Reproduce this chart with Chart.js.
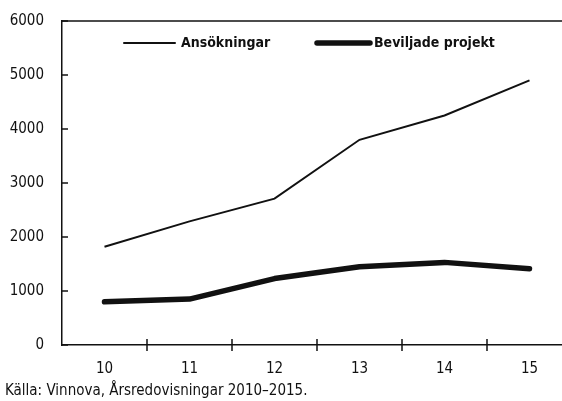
<!DOCTYPE html>
<html>
<head>
<meta charset="utf-8">
<script src="https://cdn.jsdelivr.net/npm/chart.js@4/dist/chart.umd.min.js"></script>
<style>
  html, body { margin: 0; padding: 0; background: #fff; overflow: hidden; }
  #wrap { position: relative; width: 572px; height: 401px; }
  #source { position: absolute; left: 5px; top: 381px; font: 15px 'Liberation Sans Narrow', 'DejaVu Sans Condensed', sans-serif; color: #111; white-space: nowrap; }
</style>
</head>
<body>
<div id="wrap">
  <canvas id="chart" width="572" height="401"></canvas>
  <div id="source">Källa: Vinnova, Årsredovisningar 2010–2015.</div>
</div>
<script>
const years = ["10", "11", "12", "13", "14", "15"];
const ansokningar = [1820, 2290, 2710, 3800, 4250, 4900];
const beviljade = [800, 850, 1230, 1450, 1530, 1410];
const yTicks = [0, 1000, 2000, 3000, 4000, 5000, 6000];

const fontFam = "'Liberation Sans Narrow', 'DejaVu Sans Condensed', sans-serif";

const frameAndLegend = {
  id: "frameAndLegend",
  afterDraw(chart) {
    const ctx = chart.ctx;
    const area = chart.chartArea;
    const xs = chart.scales.x;
    const ys = chart.scales.y;
    ctx.save();
    ctx.strokeStyle = "#111";
    ctx.lineWidth = 1.5;
    // top border
    ctx.beginPath();
    ctx.moveTo(area.left, area.top);
    ctx.lineTo(area.right + 20, area.top);
    ctx.stroke();
    // y ticks inside
    yTicks.forEach(v => {
      const y = ys.getPixelForValue(v);
      ctx.beginPath();
      ctx.moveTo(area.left, y);
      ctx.lineTo(area.left + 6, y);
      ctx.stroke();
    });
    // x ticks between categories, crossing the axis
    const step = xs.getPixelForValue(1) - xs.getPixelForValue(0);
    for (let i = 1; i < years.length; i++) {
      const x = xs.getPixelForValue(i) - step / 2;
      ctx.beginPath();
      ctx.moveTo(x, area.bottom - 6);
      ctx.lineTo(x, area.bottom + 6);
      ctx.stroke();
    }
    // legend
    const ly = area.top + 22;
    ctx.lineCap = "round";
    ctx.lineWidth = 2;
    ctx.beginPath();
    ctx.moveTo(area.left + 62, ly);
    ctx.lineTo(area.left + 113, ly);
    ctx.stroke();
    ctx.lineWidth = 5.5;
    ctx.beginPath();
    ctx.moveTo(area.left + 255, ly);
    ctx.lineTo(area.left + 308, ly);
    ctx.stroke();
    ctx.fillStyle = "#111";
    ctx.font = "bold 14px " + fontFam;
    ctx.textBaseline = "middle";
    ctx.fillText(chart.data.datasets[0].label, area.left + 119, ly);
    ctx.fillText(chart.data.datasets[1].label, area.left + 312, ly);
    ctx.restore();
  }
};

new Chart(document.getElementById("chart"), {
  type: "line",
  data: {
    labels: years,
    datasets: [
      {
        label: "Ansökningar",
        data: ansokningar,
        borderColor: "#111",
        borderWidth: 2,
        pointRadius: 0,
        tension: 0
      },
      {
        label: "Beviljade projekt",
        data: beviljade,
        borderColor: "#111",
        borderWidth: 5.5,
        borderCapStyle: "round",
        borderJoinStyle: "round",
        pointRadius: 0,
        tension: 0
      }
    ]
  },
  options: {
    responsive: false,
    animation: false,
    layout: { padding: { top: 21, left: 0, right: 0, bottom: 0 } },
    plugins: {
      legend: { display: false },
      tooltip: { enabled: false }
    },
    scales: {
      x: {
        offset: true,
        grid: { display: false, drawTicks: false },
        border: { display: true, color: "#111", width: 1.5 },
        ticks: { color: "#111", padding: 15, font: { family: fontFam, size: 15 } },
        afterFit(scale) { scale.height = 56; }
      },
      y: {
        min: 0,
        max: 6000,
        grid: { display: false, drawTicks: false },
        border: { display: true, color: "#111", width: 1.5 },
        ticks: {
          stepSize: 1000,
          color: "#111",
          padding: 18,
          font: { family: fontFam, size: 15 },
          callback: v => String(v)
        },
        afterFit(scale) {
          scale.width = 62;
          scale.paddingTop = 0;
          scale.paddingBottom = 0;
        }
      }
    }
  },
  plugins: [frameAndLegend]
});
</script>
</body>
</html>
